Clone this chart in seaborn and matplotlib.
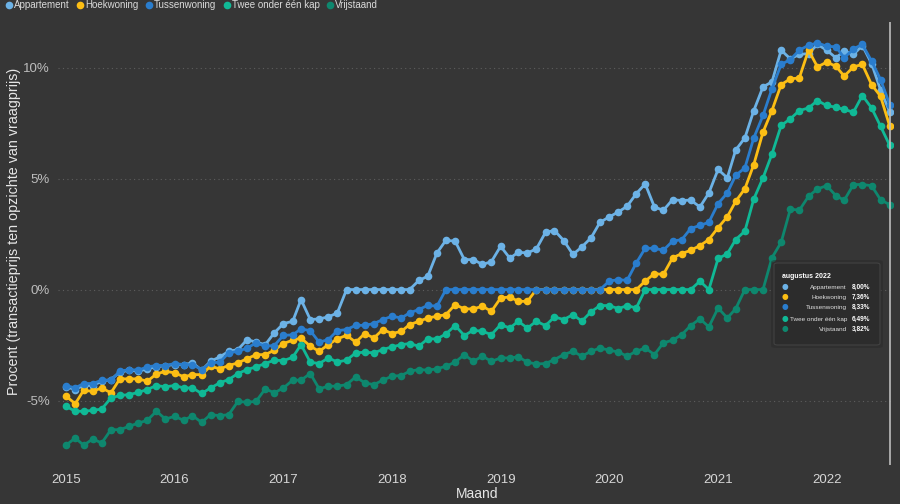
import pandas as pd
import seaborn as sns
import matplotlib.pyplot as plt
import matplotlib.dates as mdates
from matplotlib.lines import Line2D
from matplotlib.patches import FancyBboxPatch
from matplotlib.ticker import FuncFormatter

# data (Jan 2015 - Aug 2022, percentage transaction price vs asking price)
months = pd.date_range("2015-01-01", periods=92, freq="MS")
types = ["Appartement", "Hoekwoning", "Tussenwoning", "Twee onder één kap", "Vrijstaand"]
colors = ["#6cb2e6", "#fcbe14", "#2a7dcd", "#10b996", "#0e876e"]

appartement = [-4.38, -4.5, -4.32, -4.32, -4.13, -4.05, -3.72, -3.63, -3.68, -3.57, -3.48, -3.42,
               -3.38, -3.38, -3.3, -3.63, -3.23, -3.03, -2.78, -2.7, -2.25, -2.37, -2.48, -1.95,
               -1.53, -1.43, -0.45, -1.35, -1.32, -1.23, -1.05, 0, 0, 0, 0, 0,
               0, 0, 0, 0.41, 0.6, 1.65, 2.22, 2.18, 1.35, 1.35, 1.13, 1.26,
               1.95, 1.41, 1.68, 1.65, 1.83, 2.58, 2.66, 2.21, 1.58, 1.92, 2.33, 3.03,
               3.27, 3.5, 3.75, 4.32, 4.76, 3.72, 3.57, 4.05, 4.01, 4.03, 3.72, 4.35,
               5.41, 5.03, 6.28, 6.83, 8.06, 9.13, 9.35, 10.78, 10.39, 10.59, 10.63, 11.04,
               10.78, 10.44, 10.74, 10.59, 10.99, 10.18, 9.0, 8.0]
hoekwoning = [-4.8, -5.14, -4.54, -4.58, -4.43, -4.65, -4.02, -4.02, -4.02, -4.13, -3.8, -3.68,
              -3.75, -3.93, -3.83, -3.83, -3.45, -3.57, -3.42, -3.3, -3.11, -2.93, -2.93, -2.73,
              -2.43, -2.28, -2.18, -2.55, -2.78, -2.48, -2.22, -2.06, -2.37, -1.98, -2.18, -1.8,
              -1.98, -1.88, -1.58, -1.43, -1.28, -1.2, -1.13, -0.68, -0.87, -0.87, -0.75, -0.98,
              -0.38, -0.33, -0.53, -0.53, 0, 0, 0, 0, 0, 0, 0, 0,
              0, 0, 0, 0, 0.38, 0.72, 0.68, 1.43, 1.62, 1.77, 1.98, 2.25,
              2.79, 3.28, 3.97, 4.54, 5.63, 7.09, 8.06, 9.23, 9.49, 9.53, 10.78, 10.03,
              10.24, 10.06, 9.61, 10.03, 10.14, 9.23, 8.71, 7.36]
tussenwoning = [-4.32, -4.43, -4.23, -4.23, -4.08, -4.08, -3.68, -3.6, -3.63, -3.48, -3.42, -3.42,
                -3.33, -3.38, -3.38, -3.6, -3.3, -3.27, -2.85, -2.78, -2.63, -2.4, -2.55, -2.52,
                -2.06, -2.04, -1.77, -1.85, -2.37, -2.25, -1.85, -1.8, -1.61, -1.61, -1.53, -1.35,
                -1.2, -1.28, -1.05, -0.9, -0.71, -0.75, 0, 0, 0, 0, 0, 0,
                0, 0, 0, 0, 0, 0, 0, 0, 0, 0, 0, 0,
                0.38, 0.45, 0.41, 1.2, 1.86, 1.86, 1.77, 2.18, 2.25, 2.75, 2.89, 3.03,
                3.87, 4.35, 5.14, 5.48, 6.83, 7.84, 9.04, 10.14, 10.36, 10.78, 11.0, 11.11,
                10.96, 10.93, 10.44, 10.84, 11.04, 10.29, 9.46, 8.33]
twee_onder_een_kap = [-5.26, -5.48, -5.48, -5.44, -5.38, -4.88, -4.77, -4.73, -4.63, -4.5, -4.32, -4.38,
                      -4.32, -4.43, -4.43, -4.68, -4.43, -4.2, -4.05, -3.78, -3.6, -3.48, -3.33, -3.18,
                      -3.2, -3.05, -2.48, -3.27, -3.33, -3.08, -3.26, -3.18, -2.85, -2.82, -2.85, -2.7,
                      -2.58, -2.48, -2.43, -2.55, -2.22, -2.22, -2.0, -1.62, -2.07, -1.83, -1.88, -2.03,
                      -1.58, -1.73, -1.43, -1.73, -1.43, -1.62, -1.23, -1.35, -1.13, -1.42, -1.0, -0.72,
                      -0.72, -0.86, -0.72, -0.83, 0, 0, 0, 0, 0, 0, 0.38, 0,
                      1.4, 1.61, 2.25, 2.63, 4.08, 5.03, 6.1, 7.39, 7.69, 8.06, 8.18, 8.51,
                      8.29, 8.21, 8.11, 7.99, 8.74, 8.18, 7.36, 6.49]
vrijstaand = [-7.01, -6.68, -7.01, -6.73, -6.91, -6.31, -6.31, -6.16, -6.01, -5.89, -5.48, -5.83,
              -5.71, -5.89, -5.68, -5.98, -5.63, -5.68, -5.63, -5.03, -5.08, -5.03, -4.47, -4.65,
              -4.43, -4.08, -4.08, -3.78, -4.47, -4.35, -4.35, -4.28, -3.93, -4.2, -4.28, -4.08,
              -3.9, -3.87, -3.68, -3.6, -3.63, -3.57, -3.45, -3.27, -2.93, -3.23, -3.0, -3.23,
              -3.08, -3.08, -3.03, -3.27, -3.35, -3.33, -3.15, -2.93, -2.78, -3.0, -2.78, -2.63,
              -2.73, -2.81, -3.0, -2.78, -2.63, -2.93, -2.4, -2.28, -2.03, -1.62, -1.32, -1.68,
              -0.83, -1.28, -0.87, 0, 0, 0, 1.43, 2.13, 3.63, 3.57, 4.2, 4.53,
              4.68, 4.23, 4.02, 4.73, 4.73, 4.68, 4.05, 3.82]

series = [appartement, hoekwoning, tussenwoning, twee_onder_een_kap, vrijstaand]
last_labels = ["8,00%", "7,36%", "8,33%", "6,49%", "3,82%"]

# long format for seaborn
frames = []
for name, vals in zip(types, series):
    frames.append(pd.DataFrame({"Maand": months, "Procent": vals, "Type": name}))
df = pd.concat(frames, ignore_index=True)

bg = "#363636"
sns.set_theme(style="dark", rc={"axes.facecolor": bg, "figure.facecolor": bg})
plt.rcParams["font.family"] = ["Liberation Sans", "DejaVu Sans"]

fig = plt.figure(figsize=(9, 5.04), dpi=100)
W, H = 900, 504
ax = fig.add_axes([58 / W, (H - 465) / H, (893 - 58) / W, (465 - 22) / H])

sns.lineplot(data=df, x="Maand", y="Procent", hue="Type", hue_order=types,
             palette=colors, marker="o", markersize=5.5, markeredgewidth=0,
             linewidth=2, legend=False, ax=ax)

# axes look
ax.set_xlim(pd.Timestamp("2014-12-05"), pd.Timestamp("2022-08-12"))
ax.set_ylim(-7.9, 12.05)
ax.set_yticks([-5, 0, 5, 10])
ax.yaxis.set_major_formatter(FuncFormatter(lambda v, p: f"{v:.0f}%"))
ax.xaxis.set_major_locator(mdates.YearLocator())
ax.xaxis.set_major_formatter(mdates.DateFormatter("%Y"))
ax.tick_params(axis="y", colors="#bdbdbd", labelsize=9.5, length=0, pad=6)
ax.tick_params(axis="x", colors="#d6d6d6", labelsize=9.5, length=0, pad=6.5)
ax.set_xlabel("")
ax.set_ylabel("")
ax.xaxis.grid(False)
ax.yaxis.grid(True, color="#5e5e5e", linestyle=(0, (1, 3)), linewidth=0.8)
for s in ax.spines.values():
    s.set_visible(False)

# hover line at last month
ax.axvline(months[-1], color="#bdbdbd", linewidth=1.2, zorder=5)

fig.text(477 / W, 1 - 494 / H, "Maand", color="#e6e6e6", fontsize=10, ha="center", va="center")
fig.text(14 / W, 1 - 231 / H, "Procent (transactieprijs ten opzichte van vraagprijs)",
         color="#e6e6e6", fontsize=10.3, rotation=90, ha="center", va="center")

# legend on top
handles = [Line2D([], [], marker="o", linestyle="", color=c, markersize=5.5, markeredgewidth=0)
           for c in colors]
fig.legend(handles, types, loc="upper left", bbox_to_anchor=(3 / W, 1 + 1 / H), ncol=5,
           frameon=False, handletextpad=0.05, columnspacing=0.55, handlelength=1.0,
           borderaxespad=0, borderpad=0.1, fontsize=7.0, labelcolor="#dadada")

# tooltip box with a soft shadow
shadow = FancyBboxPatch((771 / W, 1 - 348 / H), (883 - 771) / W, (348 - 260) / H,
                        boxstyle="round,pad=0,rounding_size=0.005", transform=fig.transFigure,
                        facecolor="#2a2a2a", edgecolor="none", alpha=0.5, zorder=9)
fig.patches.append(shadow)
box = FancyBboxPatch((774 / W, 1 - 345 / H), (880 - 774) / W, (345 - 263) / H,
                     boxstyle="round,pad=0,rounding_size=0.004", transform=fig.transFigure,
                     facecolor="#2c2c2c", edgecolor="#424242", linewidth=0.8, zorder=10)
fig.patches.append(box)
fig.text(782 / W, 1 - 276 / H, "augustus 2022", color="white", fontsize=5, weight="bold",
         va="center", zorder=11)
row_y = [287, 297, 307, 319, 329]
for name, c, lab, y in zip(types, colors, last_labels, row_y):
    fig.text(785 / W, 1 - y / H, "●", color=c, fontsize=5.5, ha="center", va="center", zorder=11,
             family=["DejaVu Sans"])
    fig.text(847 / W, 1 - y / H, name, color="#e0e0e0", fontsize=4.55, ha="right", va="center", zorder=11)
    fig.text(852 / W, 1 - y / H, lab, color="white", fontsize=4.7, weight="bold", ha="left",
             va="center", zorder=11)

fig.savefig("out.png", dpi=100, facecolor=bg)
